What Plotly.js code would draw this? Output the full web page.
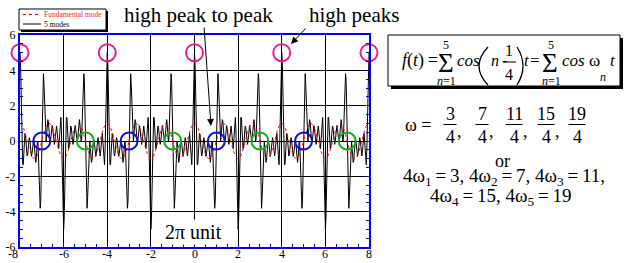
<!DOCTYPE html>
<html><head><meta charset="utf-8">
<script src="https://cdn.plot.ly/plotly-3.0.1.min.js"></script>
<style>html,body{margin:0;padding:0;background:#fff}</style>
</head><body><div id="chart" style="width:624px;height:263px"></div>
<script>
// ---- data (x in 2π units, -8..8) ----
const xStart = -8;
const fiveModesStep = 0.025;
const fiveModes = [
5,4.43,2.94,1.07,-0.51,-1.34,-1.33,-0.73,0,0.43,0.38,-0.05,-0.56,-0.85,-0.77,-0.41,0,0.19,0.06,-0.32,-0.71,-0.87,-0.71,-0.34,0,0.08,-0.19,-0.67,-1.1,-1.21,-0.92,-0.4,0,-0.09,-0.81,-2.01,-3.2,-3.81,-3.44,-2.1,0,
2.1,3.44,3.81,3.2,2.01,0.81,0.09,0,0.4,0.92,1.21,1.1,0.67,0.19,-0.08,0,0.34,0.71,0.87,0.71,0.32,-0.06,-0.19,0,0.41,0.77,0.85,0.56,0.05,-0.38,-0.43,0,0.73,1.33,1.34,0.51,-1.07,-2.94,-4.43,-5,
-4.43,-2.94,-1.07,0.51,1.34,1.33,0.73,0,-0.43,-0.38,0.05,0.56,0.85,0.77,0.41,0,-0.19,-0.06,0.32,0.71,0.87,0.71,0.34,0,-0.08,0.19,0.67,1.1,1.21,0.92,0.4,0,0.09,0.81,2.01,3.2,3.81,3.44,2.1,0,
-2.1,-3.44,-3.81,-3.2,-2.01,-0.81,-0.09,0,-0.4,-0.92,-1.21,-1.1,-0.67,-0.19,0.08,0,-0.34,-0.71,-0.87,-0.71,-0.32,0.06,0.19,0,-0.41,-0.77,-0.85,-0.56,-0.05,0.38,0.43,0,-0.73,-1.33,-1.34,-0.51,1.07,2.94,4.43,
5,4.43,2.94,1.07,-0.51,-1.34,-1.33,-0.73,0,0.43,0.38,-0.05,-0.56,-0.85,-0.77,-0.41,0,0.19,0.06,-0.32,-0.71,-0.87,-0.71,-0.34,0,0.08,-0.19,-0.67,-1.1,-1.21,-0.92,-0.4,0,-0.09,-0.81,-2.01,-3.2,-3.81,-3.44,-2.1,0,
2.1,3.44,3.81,3.2,2.01,0.81,0.09,0,0.4,0.92,1.21,1.1,0.67,0.19,-0.08,0,0.34,0.71,0.87,0.71,0.32,-0.06,-0.19,0,0.41,0.77,0.85,0.56,0.05,-0.38,-0.43,0,0.73,1.33,1.34,0.51,-1.07,-2.94,-4.43,-5,
-4.43,-2.94,-1.07,0.51,1.34,1.33,0.73,0,-0.43,-0.38,0.05,0.56,0.85,0.77,0.41,0,-0.19,-0.06,0.32,0.71,0.87,0.71,0.34,0,-0.08,0.19,0.67,1.1,1.21,0.92,0.4,0,0.09,0.81,2.01,3.2,3.81,3.44,2.1,0,
-2.1,-3.44,-3.81,-3.2,-2.01,-0.81,-0.09,0,-0.4,-0.92,-1.21,-1.1,-0.67,-0.19,0.08,0,-0.34,-0.71,-0.87,-0.71,-0.32,0.06,0.19,0,-0.41,-0.77,-0.85,-0.56,-0.05,0.38,0.43,0,-0.73,-1.33,-1.34,-0.51,1.07,2.94,4.43,
5,4.43,2.94,1.07,-0.51,-1.34,-1.33,-0.73,0,0.43,0.38,-0.05,-0.56,-0.85,-0.77,-0.41,0,0.19,0.06,-0.32,-0.71,-0.87,-0.71,-0.34,0,0.08,-0.19,-0.67,-1.1,-1.21,-0.92,-0.4,0,-0.09,-0.81,-2.01,-3.2,-3.81,-3.44,-2.1,0,
2.1,3.44,3.81,3.2,2.01,0.81,0.09,0,0.4,0.92,1.21,1.1,0.67,0.19,-0.08,0,0.34,0.71,0.87,0.71,0.32,-0.06,-0.19,0,0.41,0.77,0.85,0.56,0.05,-0.38,-0.43,0,0.73,1.33,1.34,0.51,-1.07,-2.94,-4.43,-5,
-4.43,-2.94,-1.07,0.51,1.34,1.33,0.73,0,-0.43,-0.38,0.05,0.56,0.85,0.77,0.41,0,-0.19,-0.06,0.32,0.71,0.87,0.71,0.34,0,-0.08,0.19,0.67,1.1,1.21,0.92,0.4,0,0.09,0.81,2.01,3.2,3.81,3.44,2.1,0,
-2.1,-3.44,-3.81,-3.2,-2.01,-0.81,-0.09,0,-0.4,-0.92,-1.21,-1.1,-0.67,-0.19,0.08,0,-0.34,-0.71,-0.87,-0.71,-0.32,0.06,0.19,0,-0.41,-0.77,-0.85,-0.56,-0.05,0.38,0.43,0,-0.73,-1.33,-1.34,-0.51,1.07,2.94,4.43,
5,4.43,2.94,1.07,-0.51,-1.34,-1.33,-0.73,0,0.43,0.38,-0.05,-0.56,-0.85,-0.77,-0.41,0,0.19,0.06,-0.32,-0.71,-0.87,-0.71,-0.34,0,0.08,-0.19,-0.67,-1.1,-1.21,-0.92,-0.4,0,-0.09,-0.81,-2.01,-3.2,-3.81,-3.44,-2.1,0,
2.1,3.44,3.81,3.2,2.01,0.81,0.09,0,0.4,0.92,1.21,1.1,0.67,0.19,-0.08,0,0.34,0.71,0.87,0.71,0.32,-0.06,-0.19,0,0.41,0.77,0.85,0.56,0.05,-0.38,-0.43,0,0.73,1.33,1.34,0.51,-1.07,-2.94,-4.43,-5,
-4.43,-2.94,-1.07,0.51,1.34,1.33,0.73,0,-0.43,-0.38,0.05,0.56,0.85,0.77,0.41,0,-0.19,-0.06,0.32,0.71,0.87,0.71,0.34,0,-0.08,0.19,0.67,1.1,1.21,0.92,0.4,0,0.09,0.81,2.01,3.2,3.81,3.44,2.1,0,
-2.1,-3.44,-3.81,-3.2,-2.01,-0.81,-0.09,0,-0.4,-0.92,-1.21,-1.1,-0.67,-0.19,0.08,0,-0.34,-0.71,-0.87,-0.71,-0.32,0.06,0.19,0,-0.41,-0.77,-0.85,-0.56,-0.05,0.38,0.43,0,-0.73,-1.33,-1.34,-0.51,1.07,2.94,4.43,
5
];
const fundamentalStep = 1/12;
const fundamental = [
1,0.92,0.71,0.38,0,-0.38,-0.71,-0.92,-1,-0.92,-0.71,-0.38,0,0.38,0.71,0.92,
1,0.92,0.71,0.38,0,-0.38,-0.71,-0.92,-1,-0.92,-0.71,-0.38,0,0.38,0.71,0.92,
1,0.92,0.71,0.38,0,-0.38,-0.71,-0.92,-1,-0.92,-0.71,-0.38,0,0.38,0.71,0.92,
1,0.92,0.71,0.38,0,-0.38,-0.71,-0.92,-1,-0.92,-0.71,-0.38,0,0.38,0.71,0.92,
1,0.92,0.71,0.38,0,-0.38,-0.71,-0.92,-1,-0.92,-0.71,-0.38,0,0.38,0.71,0.92,
1,0.92,0.71,0.38,0,-0.38,-0.71,-0.92,-1,-0.92,-0.71,-0.38,0,0.38,0.71,0.92,
1,0.92,0.71,0.38,0,-0.38,-0.71,-0.92,-1,-0.92,-0.71,-0.38,0,0.38,0.71,0.92,
1,0.92,0.71,0.38,0,-0.38,-0.71,-0.92,-1,-0.92,-0.71,-0.38,0,0.38,0.71,0.92,
1,0.92,0.71,0.38,0,-0.38,-0.71,-0.92,-1,-0.92,-0.71,-0.38,0,0.38,0.71,0.92,
1,0.92,0.71,0.38,0,-0.38,-0.71,-0.92,-1,-0.92,-0.71,-0.38,0,0.38,0.71,0.92,
1,0.92,0.71,0.38,0,-0.38,-0.71,-0.92,-1,-0.92,-0.71,-0.38,0,0.38,0.71,0.92,
1,0.92,0.71,0.38,0,-0.38,-0.71,-0.92,-1,-0.92,-0.71,-0.38,0,0.38,0.71,0.92,
1
];
const highPeakX = [-8, -4, 0, 4, 8];
const highPeakY = [5, 5, 5, 5, 5];
const blueRingX = [-7, -3, 1, 5];
const blueRingY = [0, 0, 0, 0];
const greenRingX = [-5, -1, 3, 7];
const greenRingY = [0, 0, 0, 0];
const xTickVals = [-8, -6, -4, -2, 0, 2, 4, 6, 8];
const xTickText = ['-8', '-6', '-4', '-2', '0', '2', '4', '6', '8'];
const yTickVals = [-6, -4, -2, 0, 2, 4, 6];
const yTickText = ['-6', '-4', '-2', '0', '2', '4', '6'];
const omegaNumerators = ['3', '7', '11', '15', '19'];
const omegaDenominator = '4';
const legendNames = ['Fundamental mode', '5 modes'];

// ---- layout helpers (pixel -> paper) ----
const L = 20, T = 35, W = 349, H = 212;
const SERIF = 'Liberation Serif, Times New Roman, serif';
const BLUE = '#0000ee';
const TS = '\u2009';
function px(x) { return (x - L) / W; }
function py(y) { return (T + H - y) / H; }
function ann(text, x, y, size, extra) {
  return Object.assign({
    xref: 'paper', yref: 'paper', x: px(x), y: py(y), text: text,
    showarrow: false, xanchor: 'center', yanchor: 'middle',
    font: { family: SERIF, size: size, color: 'black' }
  }, extra || {});
}
function rect(x0, y0, x1, y1, fill, lineColor, lw) {
  return { type: 'rect', xref: 'paper', yref: 'paper', x0: px(x0), x1: px(x1), y0: py(y1), y1: py(y0),
    fillcolor: fill, line: { color: lineColor || fill, width: lw === undefined ? 0 : lw } };
}
function seg(x0, y0, x1, y1, color, w, dash) {
  return { type: 'line', xref: 'paper', yref: 'paper', x0: px(x0), x1: px(x1), y0: py(y0), y1: py(y1),
    line: { color: color, width: w, dash: dash || 'solid' } };
}
function curve(x0, y0, cx, cy, x1, y1, w) {
  return { type: 'path', xref: 'paper', yref: 'paper',
    path: 'M ' + px(x0) + ',' + py(y0) + ' Q ' + px(cx) + ',' + py(cy) + ' ' + px(x1) + ',' + py(y1),
    line: { color: 'black', width: w } };
}

const traces = [
  { type: 'scatter', mode: 'lines', name: legendNames[1], x0: xStart, dx: fiveModesStep, y: fiveModes,
    line: { color: 'black', width: 1 }, hoverinfo: 'skip' },
  { type: 'scatter', mode: 'lines', name: legendNames[0], x0: xStart, dx: fundamentalStep, y: fundamental,
    line: { color: '#ff0000', width: 1, dash: 'dot', shape: 'spline' }, hoverinfo: 'skip' },
  { type: 'scatter', mode: 'markers', x: highPeakX, y: highPeakY, cliponaxis: false,
    marker: { symbol: 'circle-open', size: 17, color: '#ee1a8c', line: { width: 2, color: '#ee1a8c' } } },
  { type: 'scatter', mode: 'markers', x: blueRingX, y: blueRingY, cliponaxis: false,
    marker: { symbol: 'circle-open', size: 17, color: '#1010e0', line: { width: 2, color: '#1010e0' } } },
  { type: 'scatter', mode: 'markers', x: greenRingX, y: greenRingY, cliponaxis: false,
    marker: { symbol: 'circle-open', size: 17, color: '#10b010', line: { width: 2, color: '#10b010' } } }
];

const annotations = [
  // legend
  ann(legendNames[0], 42, 14.5, 7.5, { xanchor: 'left', font: { family: SERIF, size: 7.5, color: '#ff2020' } }),
  ann(legendNames[1], 42, 24, 7.5, { xanchor: 'left' }),
  // top labels
  ann('high peak to peak', 122, 15, 21, { xanchor: 'left' }),
  ann('high peaks', 307, 15, 21, { xanchor: 'left' }),
  // arrows
  { xref: 'paper', yref: 'paper', x: px(211), y: py(126), ax: -7, ay: -100, text: '', showarrow: true,
    arrowhead: 2, arrowsize: 1.4, arrowwidth: 1, arrowcolor: 'black' },
  { xref: 'paper', yref: 'paper', x: px(291), y: py(44), ax: 16, ay: -17, text: '', showarrow: true,
    arrowhead: 2, arrowsize: 1.4, arrowwidth: 1, arrowcolor: 'black' },
  // 2π unit
  ann('2π unit', 193, 232, 20, { bgcolor: 'white', borderpad: 1 }),
  // formula
  ann('<i>f</i>(<i>t</i>)' + TS + '=', 400, 61, 18, { xanchor: 'left' }),
  ann('Σ', 446, 63, 27),
  ann('5', 446, 45, 12),
  ann('<i>n</i>=1', 446, 81, 12),
  ann('<i>cos</i>', 455, 61, 17, { xanchor: 'left' }),
  ann('<i>n</i>' + TS + '-', 489, 61, 16, { xanchor: 'left' }),
  ann('1', 509, 50, 16),
  ann('4', 509, 74, 16),
  ann('<i>t</i>', 527, 61, 17),
  ann('=', 535, 61, 17),
  ann('Σ', 550, 63, 27),
  ann('5', 551, 45, 12),
  ann('<i>n</i>=1', 551, 81, 12),
  ann('<i>cos</i> ω', 560, 61, 17, { xanchor: 'left' }),
  ann('<i>n</i>', 603, 77, 12),
  ann('<i>t</i>', 613, 61, 17),
  // omega list
  ann('ω =', 403, 125, 18, { xanchor: 'left' }),
  ann('or', 503, 161, 18),
  ann('4ω<sub>1</sub>' + TS + '=' + TS + '3, 4ω<sub>2</sub>' + TS + '=' + TS + '7, 4ω<sub>3</sub>' + TS + '=' + TS + '11,', 504, 177, 19),
  ann('4ω<sub>4</sub>' + TS + '=' + TS + '15, 4ω<sub>5</sub>' + TS + '=' + TS + '19', 501, 197, 19)
];
// x tick labels, placed on the data axis
xTickVals.forEach(function (v, i) {
  annotations.push({ xref: 'x', yref: 'paper', x: v, y: py(254), text: xTickText[i], showarrow: false,
    xanchor: i === 0 ? 'right' : 'center', yanchor: 'middle', font: { family: SERIF, size: 12, color: 'black' } });
});
const fracX = [450, 482, 514, 546, 577];
const fracHalf = [6.5, 6.5, 8.5, 8.5, 8.5];
const shapes = [
  // legend box
  rect(21, 11, 108, 32, 'black'),
  rect(19, 9, 106, 30, 'white', 'black', 1),
  seg(23, 14.5, 41, 14.5, '#ff0000', 1, 'dot'),
  seg(23, 24, 41, 24, 'black', 1),
  // formula box
  rect(391, 38, 623, 89, 'black'),
  rect(388, 35, 620, 86, 'white', 'black', 1),
  seg(503, 62, 516, 62, 'black', 1),
  curve(488, 47, 470, 66, 488, 85, 1.3),
  curve(517, 47, 529, 66, 517, 85, 1.3)
];
omegaNumerators.forEach(function (num, i) {
  annotations.push(ann(num, fracX[i], 114, 18));
  annotations.push(ann(omegaDenominator, fracX[i], 137, 18));
  shapes.push(seg(fracX[i] - fracHalf[i], 124.5, fracX[i] + fracHalf[i], 124.5, 'black', 1));
  if (i < omegaNumerators.length - 1) annotations.push(ann(',', fracX[i] + fracHalf[i] + 3, 131, 18));
});

const axisCommon = {
  showgrid: true, gridcolor: 'black', gridwidth: 1, zeroline: false,
  showline: true, linecolor: BLUE, linewidth: 2,
  ticks: 'inside', ticklen: 4, tickcolor: BLUE, tickwidth: 1,
  tickfont: { family: SERIF, size: 12, color: 'black' },
  minor: { dtick: 0.5, ticks: 'inside', ticklen: 3, tickcolor: BLUE, tickwidth: 1, showgrid: false },
  fixedrange: true
};
const layout = {
  width: 624, height: 263,
  margin: { l: L, r: 624 - L - W, t: T, b: 263 - T - H, pad: 0 },
  paper_bgcolor: 'white', plot_bgcolor: 'white',
  showlegend: false,
  xaxis: Object.assign({}, axisCommon, { range: [-8, 8], tickmode: 'array', tickvals: xTickVals,
    showticklabels: false, mirror: true }),
  yaxis: Object.assign({}, axisCommon, { range: [-6, 6], tickmode: 'array', tickvals: yTickVals, ticktext: yTickText,
    mirror: 'allticks' }),
  annotations: annotations,
  shapes: shapes
};
Plotly.newPlot('chart', traces, layout, { staticPlot: true, displayModeBar: false });
</script>
</body></html>
